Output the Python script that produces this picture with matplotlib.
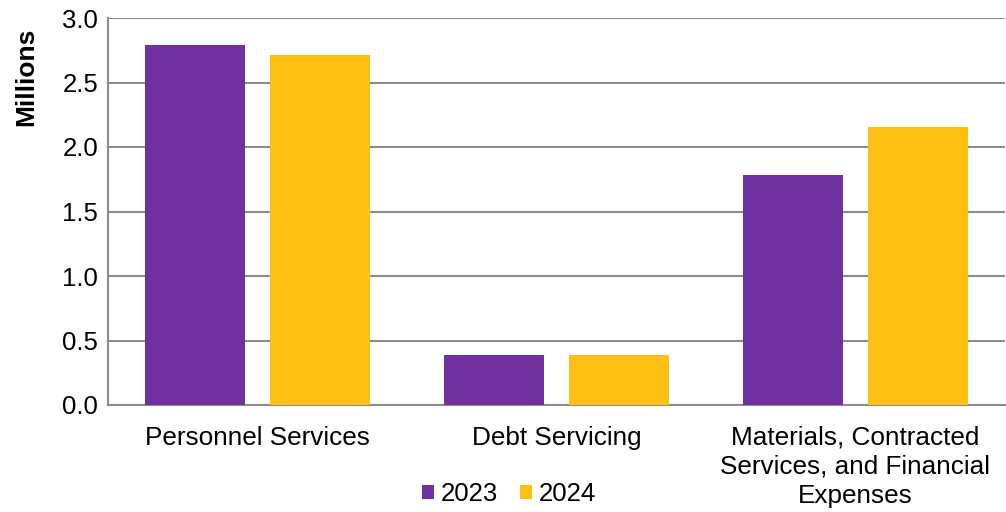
import numpy as np
import matplotlib.pyplot as plt

plt.rcParams["font.family"] = ["Liberation Sans", "DejaVu Sans"]

categories = ["Personnel Services", "Debt Servicing",
              "Materials, Contracted\nServices, and Financial\nExpenses"]
vals_2023 = [2.79, 0.39, 1.78]
vals_2024 = [2.71, 0.39, 2.155]

fig = plt.figure(figsize=(10.06, 5.12), dpi=100)
ax = fig.add_axes([108 / 1006, 107 / 512, 897 / 1006, 387 / 512])

x = np.arange(len(categories))
w = 0.334
off = 0.208
ax.bar(x - off, vals_2023, w, color="#7030A0", label="2023", zorder=3)
ax.bar(x + off, vals_2024, w, color="#FDBF12", label="2024", zorder=3)

ax.set_xlim(-0.5, 2.5)
ax.set_ylim(0, 3.0)
ticks = np.arange(0, 3.01, 0.5)
ax.set_yticks(ticks)
ax.set_yticklabels([f"{v:.1f}" for v in ticks])
ax.set_xticks(x)
ax.set_xticklabels(categories, fontsize=18.8, va="top", linespacing=1.27)
ax.tick_params(axis="y", labelsize=18.5, length=0, pad=7)
ax.tick_params(axis="x", length=0, pad=15)
ax.grid(axis="y", color="#8c8c8c", linewidth=1.5, zorder=0)
for s in ["top", "right"]:
    ax.spines[s].set_visible(False)
for s in ["left", "bottom"]:
    ax.spines[s].set_color("#8c8c8c")
    ax.spines[s].set_linewidth(1.5)

ax.set_ylabel("Millions", fontsize=19, fontweight="bold")
ax.yaxis.set_label_coords(-0.078, 0.849)

fig.legend(loc="center", bbox_to_anchor=(509 / 1006, 1 - 494 / 512), ncol=2,
           frameon=False, fontsize=18.5, handlelength=0.47, handleheight=0.47,
           handletextpad=0.25, columnspacing=0.85)

fig.savefig("out.png", dpi=100)
